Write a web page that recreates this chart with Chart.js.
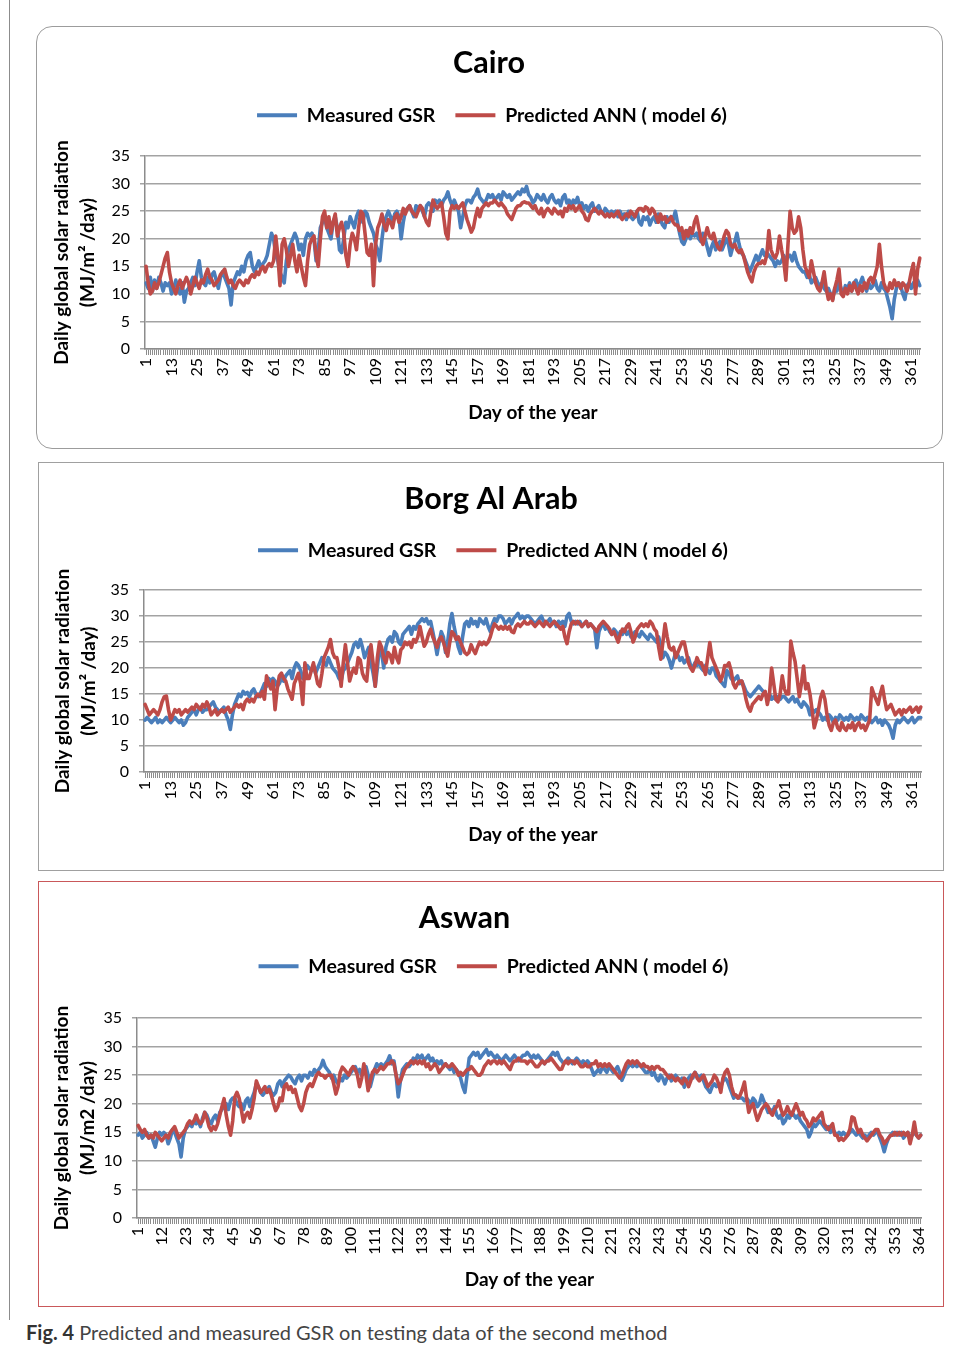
<!DOCTYPE html>
<html>
<head>
<meta charset="utf-8">
<script src="https://cdn.jsdelivr.net/npm/chart.js@4.4.1/dist/chart.umd.min.js"></script>
<style>
  body { margin: 0; background: #fff; font-family: Lato, sans-serif; }
  #page { position: relative; width: 958px; height: 1347px; overflow: hidden; }
  .edge { position: absolute; left: 9px; top: 0; height: 1320px; border-left: 1.5px solid #8c8c8c; }
  .panel { position: absolute; box-sizing: border-box; background: #fff; }
  #p1 { left: 36px; top: 26px; width: 907px; height: 423px; border: 1px solid #9c9c9c; border-radius: 16px; }
  #p2 { left: 38px; top: 462px; width: 906px; height: 409px; border: 1px solid #a0a0a0; }
  #p3 { left: 38px; top: 881px; width: 906px; height: 426px; border: 1px solid #c9585a; }
  canvas { display: block; }
  .caption { position: absolute; left: 26px; top: 1320px; font-size: 20px; color: #444; white-space: nowrap; }
  .caption b { color: #333; }
</style>
</head>
<body>
<div id="page">
  <div class="edge"></div>
  <div class="panel" id="p1"><canvas id="cairo" width="905" height="421"></canvas></div>
  <div class="panel" id="p2"><canvas id="borg" width="904" height="407"></canvas></div>
  <div class="panel" id="p3"><canvas id="aswan" width="904" height="424"></canvas></div>
  <div class="caption"><b>Fig. 4</b> Predicted and measured GSR on testing data of the second method</div>
</div>
<script>
// day of the year, 1..365
const days = Array.from({length: 365}, (_, i) => String(i + 1));
const yTicks = [0, 5, 10, 15, 20, 25, 30, 35];

// Cairo
const cairoMeasured = [
  12,11,13,10.5,12.5,11,13,12,10.5,12,
  11.5,12,10,11,12.5,11,10,12,8.5,10.5,
  11,12,13,11.5,14,16,13,12,11.5,13,
  12,13.5,14,12.5,11,13,14,13,12,11,
  8,12,13,14,13.5,15,14,16,17,17.5,
  15,14,15,16,14.5,15.5,16,17,19,21,
  20,17,16,14,13,12,16,18,19,20,
  21,20,18,19,17,20,21,20.5,21,20,
  16,18,22,23,24,22,21,20,23,24,
  22,18,17.5,20,23,22,24,23,22,24,
  25,24,23,25,24.5,23,22,21,19,18,
  16,20,23,24,25,24,23,24.5,25,24,
  20,23,25,25.5,26,25,24,26,25.5,26,
  25,24,26,26.5,26,25,27,26.5,27,26,
  27,27.5,28.5,27,26,27,26,25,22,24,
  26,27,27,26.5,27.5,28,29,27.5,27,26.5,
  27,28,27.5,28,27,27.5,28,27,28.5,28,
  27.5,28,27,27.5,28,28.5,28,29,28.5,29.5,
  28,27.5,26.5,27,28,27.5,27,28,27,26.5,
  27.5,28,27,26.5,27,26,27.5,28,26.5,27,
  26,27,26.5,27.5,26,26.5,25.5,26,25,26,
  26.5,25,25.5,26,25,24.5,25.5,25,24,25,
  24.5,25,24,25,24,24.5,23.5,25,24,23.5,
  24,25,23,22.5,24,23.5,24,22.5,23.5,24,
  23,24.5,23.5,22.5,22,24,23,24,23.5,25,
  23,21,19.5,19,20,21.5,20,21,20.5,21,
  20,19.5,21,20,18.5,17,18.5,19.5,18,19,
  19.5,18,19,20,19,17,18.5,19.5,21,19,
  17.5,17,16,15,14,15,16,17,16,17,
  18,17,17.5,17,16.5,16,15,16,15.5,16,
  17,16,17,17,16,17.5,16,15,14.5,14,
  14,13,13.5,12,12.5,13,12,11.5,12,11,
  10.5,11,10,9,11,10.5,12,11,10,11.5,
  11,12,10.5,12,12.5,11,12,13,11.5,10.5,
  12,11,11.5,12.5,11,10.5,12,11,10.5,9,
  7.5,5.5,9,11,12,11.5,10,9,11.5,12,
  11,12,11,12.5,11.5
];
const cairoPredicted = [
  15,12,10,10.5,12,11,12,13.5,15,16.5,
  17.5,14,12,11,10,11.5,12.5,11,12,13,
  12,10,11.5,13,12,11,12.5,12,13.5,14.5,
  13,12.5,11.5,12,12.5,13.5,14,14.5,13,12,
  12.5,11.5,11,12,12.5,12,11.5,12.5,12,13,
  13.5,13,14,13.5,14.5,15,14,15,15.5,15,
  16,20.5,17,11.5,19,20,18,15,17,19,
  16,14,17,15,13,11.5,16,19,20,20.5,
  17,15,20,24,25,22,24,21,23,24.5,
  20.5,22,23,21,17,15,19,21,20,18,
  22,25,24.5,21,17.5,17,19,11.5,19,22,
  23,24.5,22.5,21.5,23.5,23,22,24,24.5,23,
  24,25.5,24.5,25.5,26,25,24.5,24,25,26,
  25.5,24,23,22.4,25,27,26,25.5,26,26.5,
  24,21,20,25,26,25.5,26,25.5,26,26.5,
  25,23.5,22.4,21.2,22,24,25.5,24,25.5,26,
  26.5,26,26.5,26.5,27,26.5,26,26.5,26,25.5,
  24.5,24,23.5,24.5,25.5,26,26,26.5,26.7,26.5,
  26.5,26,25.5,26,25,24.5,25.5,24,25,25.5,
  25,24.5,25.5,25,24.5,25,24,25.5,25,26,
  25.5,26,25,25.5,26,25,24.5,23.5,23.3,24.5,
  25,25.5,25,24.5,25,24.5,24,24.5,24,24.5,
  24,24.5,25,24,23.5,24,24.5,24,25,24.5,
  24,25,25.5,25.5,25,25.8,25.5,24.5,25.5,25,
  24,23,24.5,23.5,24,23,23.5,24,23,22.5,
  22.5,21.5,22,20,21.5,20.5,22,21,23,24,
  22,20,19,20.5,22,20.5,20,21,19.5,18.5,
  18,19,20.5,21.5,21,19,18.5,19,18,17.5,
  18,17,15.5,14,13,12.2,14,15,15.5,15.5,
  16,15.5,17,21.5,18,17,16.5,17.5,20.5,18,
  16,12.5,19,25,22,21,21.5,24,22,18,
  15,14,13,16,14,12,11,10.5,12,14,
  11,9,10,8.8,11,12.5,14.5,10,9.5,11,
  10,11.5,10.5,12,11,10,11.5,10.5,12,11,
  12.5,13,12,13.5,15,19,15,12,11,10.5,
  12,11,12.5,11.5,12,11,12,11.5,10.5,12,
  14,15.5,10,14.5,16.5
];

// Borg Al Arab
const borgMeasured = [
  10,10.5,10,9.5,10,10.5,9.5,10,9.5,10,
  10.5,10,9.5,10,10.5,10,9.5,10,9,9.5,
  10.5,11,11.5,12,11,12,12.5,11.5,12,12,
  12.5,13,13.5,12.5,12,11.5,12,12.5,11,10,
  8.2,11,13,14,15,14.5,15.5,15,15.3,14.5,
  15.5,16,15,14.5,15,16,17,16.5,18,17.5,
  18,17.5,16.5,17,18,17.5,18.5,19,19.5,18,
  20,21,20.5,19.5,18,19,20.5,20,19.5,20.5,
  19,20,21,22,21,20.5,22,21,20,19.5,
  19,18,17.5,19.5,20,21,22,23,24.5,25,
  24,25.5,24,22,23,24,21,19,16.5,20,
  24,23,20,24,25.5,26,25,27,26.5,25,
  24.5,26.5,27,27.5,28,26.5,28,27.5,28.5,29,
  29.5,29,29.5,28.5,29,27,25,22.6,25,27,
  26,23,25,28.5,30.5,28,26,24,22.8,26,
  28.5,29,28,29.5,28.5,29,28,29.5,29,28.5,
  29.5,28,27,28.5,29.5,29,30,30,29.5,28.5,
  29,29.5,28.5,29.5,30,30.5,29.5,30,29.5,30,
  30,29.5,29,28.5,29,29.5,30,29,28.5,29,
  29.5,28.5,29,28,29,28.5,29,28,30,30.5,
  29,28.5,29,28.5,29,28,28.5,29,28,28.5,
  28,27.5,23.9,27,28,28.5,27.5,28,27,26.5,
  27.5,27,26,27,26.5,27.5,26.5,27,26,26.5,
  27,26.5,26,27,26.5,26,25.5,26.5,26,25.5,
  25,26,24.5,22,23,22.5,21.5,20,21.5,23,
  22.5,21.5,22,21,21.5,22,20.5,20,21,20.5,
  21,20,19.5,20.5,19.5,19,20,20,18.5,18,
  17.5,17,16.5,19.5,19,18,17.5,18,18.5,17,
  17.5,16.5,15.5,15,14.5,15,15.5,16,16.5,16,
  15.5,15,14.5,15,14,14.5,14,14.5,14,14.5,
  14.5,14,13.5,14,14.5,13.5,14,13,12.5,13.5,
  13,12.5,11,12,11.5,12,11.5,11,10,10.5,
  10,11,10.5,9.5,10.5,10,11,10.5,10,10.5,
  10,11,10.5,10,10.5,10,11,10.5,10,10.5,
  10,9.5,10,10.5,9.5,10,9,10,9.5,9,
  8,6.5,9,10,9.5,10,10.5,10,9.5,10,
  10.5,9.5,10,10.5,10.5
];
const borgPredicted = [
  13,12,11,11.5,12,11.5,11,12,13.5,14.5,
  14.6,12,10,11,12,11.5,12,11,11.5,12,
  11.5,12,12.5,12,13,12.5,12,13,12.5,13.5,
  12.5,11,11.5,12,11,11.5,12,11.5,12,12.5,
  11.5,12,12.5,13,12.5,13,12,13.5,14,13.5,
  14,13.5,14.5,15,14.5,15.5,14,18.5,17,16,
  17.5,12,16,18.5,19,18,17.5,16,15,14,
  17,18,19,17,13,21,18,18,19.5,21,
  19,17,16.5,19,22,23,24,25.5,23,22,
  22,20,16.5,21,24.5,21,17.5,19,20,19,
  22,21.5,19,18,17.5,22,24.5,21,16.5,22,
  25,24,22,21,23,22.5,21,24,22,21,
  23.5,24,25,24.5,25,24,25.5,25,26,28,
  26,24.2,25,26.5,27.5,26,25,24,25.5,26,
  25,23.5,22.3,25,27,26.5,25.5,26,25,24,
  23,22.6,23,24.5,23.5,22.8,24,25,24.5,25,
  24.5,25,26,27.5,28.5,28,27.5,28,27.5,28,
  27.5,28,27,26.8,28,28.5,28,28.5,29,28.5,
  28.5,29,28.5,28,28.5,29,28.5,28,29,28.5,
  28,28.5,29,28.5,28,27.5,28,26,24.7,27,
  28.5,29,28.5,29,28.5,28,28.5,29,28,28.5,
  28,27.5,27,28,28.5,29,28.5,28,27.5,26.5,
  27,26,25,26.5,27.5,27,28,28.5,27,25,
  26,27.5,28,28.5,28,28.5,28,29,28.5,27.5,
  27,24,21.7,25,28.5,26,24,23.5,24,22,
  23,24,25,25,23,21,20,19.4,20.5,22,
  21,21,20,18.8,22,24.9,22,21,20,19,
  17.5,18.5,20.5,20.4,21,19.5,17,16.2,17,17.5,
  17.5,16,14,12.5,11.7,13,13.5,14,14.5,14,
  15,15.5,13,15,20,17,14,13.5,15,18.5,
  16,15,15,25.2,23,21.3,18,14.5,17,20.4,
  16,17,15,12,8.5,10,12,14.3,15.5,14,
  11,9,8,9.5,10,8.5,8,9.5,8.5,8,
  9,8.5,9.5,8,9,9.5,8.5,9,8,9,
  10,16.2,15,14,13,15,16.5,14,12,12.5,
  13,12,11,11.5,12,11,12,11.5,12,12.5,
  11.5,12,12.5,11.5,12.5
];

// Aswan
const aswanMeasured = [
  14.5,15,14,14.5,15,14,14.5,13.5,12.4,14,
  15,14.5,15,14.5,13,14,15.5,15,14,13,
  10.7,14,15.5,16,16.5,16,17,16.5,17,16,
  17.5,18.5,18,17,16.5,17.5,18,17,18.5,19,
  19.5,20,19,20.5,21,21,20,19.5,20,19,
  20.5,21,19.5,21,22,23.5,23,22,21.5,22,
  22.5,23,22,21.5,22,23.5,24,23,24,24.5,
  25,24.7,24,23.5,24.5,25,24,25,25,24.5,
  25.5,25,26,25.5,26,26.5,27.6,26.5,26,25.5,
  24.5,25,24,23.5,24.5,24,25,24.5,25,25.5,
  26,26.5,25.5,26,25,25.5,26.5,25,23,24.5,
  26,27,26.5,27,26.5,27,27.5,28.4,27,27.5,
  25,21.2,24,26,26.5,27,26.5,27,28,27.5,
  28.5,28,28.5,27.5,28,28.5,27.5,28,27,27.5,
  27,27.5,26.5,27,26.5,26,26.5,25.5,26,25.5,
  24.5,23,22,25,28,28.5,29,28.5,29,28,
  28.5,29,29.5,28.5,29,28.5,28,28.5,28,27.5,
  28,28.5,28,27.5,28,28.5,28,27.5,28,28.5,
  28.5,29,28.5,28,28.5,28,28.5,28,27.5,27,
  27.5,28,28.5,29,28.5,29,28,27.5,27,27.5,
  28,27.5,27,27.5,28,27.5,27,27.5,27,27.5,
  27,26,25,25.5,26,25.5,26.5,26,25.5,26.5,
  26,25.5,26,26.5,25.5,24.1,25,26,26.5,27,
  26.5,27,26.5,27,26.5,26,25.5,25.5,26,25,
  25.5,24.5,24,25,24.5,23.5,24.5,25,24,24.5,
  25,24.5,24,24.5,22.9,24,24.5,25,24.5,25.5,
  25,24.5,25,24,23,22.5,22,23,23.5,23,
  23.5,23,24,24.5,24,23,22,21,21.5,21,
  21,21,20.5,21,20.5,20,21,20.5,19.5,20,
  21.5,20.5,19.5,18.5,19,18.5,19.5,18,17.5,18,
  16.5,17,18,17.5,18.5,18,17.5,18,17,16.5,
  16,15.5,14.2,15,16.5,16,16.5,17,16.5,16,
  15.5,16,15,15.5,15,14.5,15,14.5,15,14.5,
  14.5,15,15.5,15,14.5,15,14.5,14,14.5,14,
  14.5,15,14.5,15,15,14,13,11.6,13,14,
  14.5,15,14.5,15,14.5,15,14,14.5,15,14,
  14.5,15,14.5,14,14.5
];
const aswanPredicted = [
  16.2,15.5,15,15.5,14.5,14,14.5,14,15,14.5,
  14,13.5,14,14.5,14,15,15.5,16,15,14,
  14.5,15,15.5,16.5,17,16.5,17,18,17,16.5,
  17,18.5,17.5,16,15.3,16,15.5,16.5,18,19.5,
  20.9,18,16,14.5,17,21.2,22,21,19,16.8,
  18,18.5,17.5,19,21,24,23,22,22.5,23,
  22,22.5,21.5,20,18.8,19.5,21,20.5,23,23.5,
  22.5,23,22,22.5,21,19.5,18.8,20,22,23,
  23.5,23,24,25,25.5,25,25,24.5,25,25,
  25,23.5,21.7,23,25.5,26.4,26,25.5,25,26,
  26.5,26,25,23,24.5,27,25,22.3,24,25.5,
  26,25.5,26,26.5,26,26.5,27,27,27.5,27,
  25,23.5,24,25,26,26.5,27,27.5,27,27.5,
  27,27.5,27,27.5,26.5,27,26,26.5,27,26.5,
  25.5,26,26.5,27,26.5,26.5,27,26.5,26,25,
  25.5,25,25.5,26,26,26.5,26,25.5,25,25,
  25.5,26.5,27,27.5,27,27.5,27.5,27,27.5,27,
  27.5,27,26.5,26,27,27.5,27.5,28,27.5,27.5,
  27.5,27,27.5,27.5,27,26.5,26.5,27,27.5,27,
  27.5,27.5,28,27.5,27,26.5,26,26.1,27,27.5,
  27,27.5,27.5,27,27.5,27,26.5,26.5,27,26.5,
  26.5,27,27,27.5,26.5,27,26.5,27,26.5,27,
  26.5,26,25.5,25,24.5,25,26,27,27.5,27,
  27.5,27,27.5,27,26.5,27,26.5,26.5,26,26.5,
  26,26.5,26.5,26,26,25.5,25,24.5,25,24.5,
  24,24.5,24,23.5,24.5,24,23,24,25,25.5,
  24.5,24,24.5,25,24,23,23.5,24,25,24.5,
  23.5,22,24.5,25.5,26,25,23,21.7,21.5,21,
  21.5,22.5,23.8,21,18.5,19.5,20,18.5,17.1,18,
  19,19.5,20,19.5,18.5,18,19,19.5,20.5,19,
  18,18.5,19.5,18.5,18,19,20,19,18,18.5,
  17.5,17,16,16.5,17.5,17,17.5,18,18.5,16.5,
  16,15.5,16,16.5,14.5,14.5,13.6,14,13.6,14,
  14.5,15.5,17.7,17.5,16,15,15.5,14.5,14,13.5,
  14,14.5,15,15.5,15.5,14.5,14,13,13.5,14,
  14.5,14.5,15,14.5,15,14.5,15,14.5,15,13,
  14.5,16.8,14.5,14,14.5
];

const BLUE = '#4a7ebb';
const RED = '#be4b48';
const FONT = 'Lato, sans-serif';

// legend gets extra room below it; title and legend can be nudged sideways
function layoutTweak(o) {
  return {
    id: 'layoutTweak',
    beforeInit(chart) {
      const fit = chart.legend.fit;
      chart.legend.fit = function () {
        fit.call(this);
        this.height += o.legendGap;
      };
    },
    afterLayout(chart) {
      chart.titleBlock.left += o.titleDx;
      chart.titleBlock.right += o.titleDx;
      chart.legend.left += o.legendDx;
      chart.legend.right += o.legendDx;
    }
  };
}

function drawPanel(id, o) {
  new Chart(document.getElementById(id), {
    type: 'line',
    data: {
      labels: days,
      datasets: [
        {label: 'Measured GSR', data: o.measured, borderColor: BLUE, backgroundColor: BLUE,
         pointBorderWidth: 4, order: 1},
        {label: 'Predicted ANN ( model 6)', data: o.predicted, borderColor: RED, backgroundColor: RED,
         pointBorderWidth: 4, order: 0}
      ]
    },
    options: {
      responsive: false,
      animation: false,
      elements: {
        point: {radius: 0, hoverRadius: 0},
        line: {borderWidth: 3.6, tension: 0, borderJoinStyle: 'round', borderCapStyle: 'round'}
      },
      layout: {padding: {top: 0, left: 0, right: o.padRight, bottom: 10}},
      plugins: {
        title: {
          display: true, text: o.title, color: '#000',
          font: {family: FONT, size: 30.5, weight: 'bold'},
          padding: {top: o.titleTop, bottom: o.titleBottom}
        },
        legend: {
          position: 'top',
          labels: {
            usePointStyle: true, pointStyle: 'line', pointStyleWidth: 40,
            padding: 20, color: '#000',
            font: {family: FONT, size: 19.5, weight: 'bold'},
            sort: (a, b) => a.datasetIndex - b.datasetIndex
          }
        },
        tooltip: {enabled: false}
      },
      scales: {
        x: {
          offset: true,
          afterFit: s => { s.height = o.xHeight; },
          grid: {drawOnChartArea: false, tickLength: 6, color: '#8c8c8c', lineWidth: 1},
          border: {color: '#8c8c8c', width: 1.5},
          ticks: {
            autoSkip: false, minRotation: 90, maxRotation: 90, padding: 3, color: '#000',
            font: {family: FONT, size: 16},
            callback: (v, i) => (i % o.step === 0 ? days[i] : '')
          },
          title: {
            display: true, text: 'Day of the year', color: '#000',
            font: {family: FONT, size: 19, weight: 'bold'},
            padding: {top: 0, bottom: o.xTitleBottom}
          }
        },
        y: {
          min: 0, max: 35,
          afterFit: s => { s.width = o.yWidth; },
          afterBuildTicks: s => { s.ticks = yTicks.map(v => ({value: v})); },
          grid: {color: '#a3a3a3', lineWidth: 1.5, tickLength: 5},
          border: {color: '#8c8c8c', width: 1.5},
          ticks: {padding: 10, color: '#000', font: {family: FONT, size: 16}},
          title: {
            display: true, text: o.yTitle, color: '#000',
            font: {family: FONT, size: 19, weight: 'bold', lineHeight: 1.35},
            padding: {top: o.yTitleTop, bottom: 0}
          }
        }
      }
    },
    plugins: [layoutTweak(o)]
  });
}

drawPanel('cairo', {
  title: 'Cairo', measured: cairoMeasured, predicted: cairoPredicted, step: 12,
  yTitle: ['Daily global solar radiation', '(MJ/m\u00b2 /day)'],
  padRight: 21, yWidth: 108, xHeight: 89, xTitleBottom: 14,
  titleTop: 18, titleBottom: 4, legendGap: 21, titleDx: 10, legendDx: 13, yTitleTop: 12
});
drawPanel('borg', {
  title: 'Borg Al Arab', measured: borgMeasured, predicted: borgPredicted, step: 12,
  yTitle: ['Daily global solar radiation', '(MJ/m\u00b2 /day)'],
  padRight: 20, yWidth: 105, xHeight: 88, xTitleBottom: 14,
  titleTop: 18, titleBottom: 3, legendGap: 20, titleDx: 10, legendDx: 12, yTitleTop: 11
});
drawPanel('aswan', {
  title: 'Aswan', measured: aswanMeasured, predicted: aswanPredicted, step: 11,
  yTitle: ['Daily global solar radiation', '(MJ/m2 /day)'],
  padRight: 21, yWidth: 98, xHeight: 78, xTitleBottom: 5,
  titleTop: 18, titleBottom: 0, legendGap: 32, titleDx: -16, legendDx: 13, yTitleTop: 10
});
</script>
</body>
</html>
